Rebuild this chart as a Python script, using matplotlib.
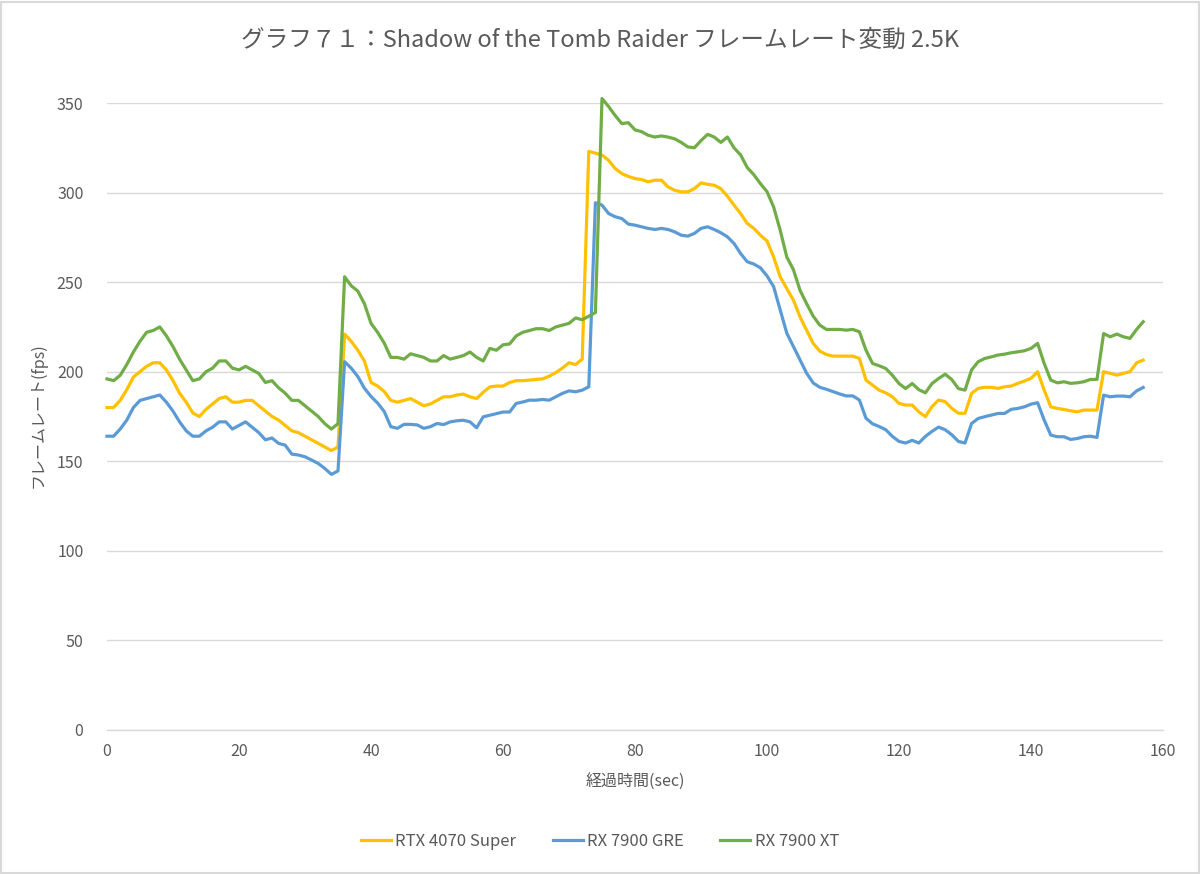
import matplotlib
matplotlib.use("Agg")
import matplotlib.pyplot as plt
from matplotlib.patches import Rectangle

plt.rcParams['font.family'] = ['Noto Sans CJK JP', 'DejaVu Sans']

title = "グラフ７１：Shadow of the Tomb Raider フレームレート変動 2.5K"
xlabel = "経過時間(sec)"
ylabel = "フレームレート(fps)"
series_names = ["RTX 4070 Super", "RX 7900 GRE", "RX 7900 XT"]
colors = ["#FFC000", "#5B9BD5", "#70AD47"]

seconds = list(range(158))

rtx4070s = [
    180, 180, 184, 190, 197, 200, 203, 205, 205, 201, 195, 188, 183, 177, 175, 179, 182, 185, 186, 183,
    183, 184, 184, 181, 178, 175, 173, 170, 167, 166, 164, 162, 160, 158, 156, 158, 221, 217, 212, 206,
    194, 192, 189, 184, 183, 184, 185, 183, 181, 182, 184, 186, 186, 187, 187.5, 186, 185, 188.5, 191.5, 192,
    192, 194, 195, 195, 195.3, 195.7, 196, 197.5, 199.5, 202, 205, 204, 207, 323, 322, 320.9, 318, 313.4, 310.6, 309,
    307.8, 307.3, 306, 306.9, 306.9, 303.2, 301.3, 300.4, 300.4, 302.2, 305.4, 304.6, 304.1, 302.2, 298, 293, 288.3, 282.8, 280, 276.2,
    273, 264.1, 253, 246.4, 240, 230.6, 223.2, 215.8, 211.5, 209.6, 208.7, 208.7, 208.7, 208.7, 207.4, 195.3, 192.5, 189.7, 188.2, 186,
    182.3, 181.4, 181.4, 177.6, 174.9, 180.5, 184.2, 183.3, 179.5, 176.8, 176.8, 187.9, 190.7, 191.3, 191.3, 190.7, 191.6, 192, 193.5, 194.8,
    196.3, 200, 189.7, 180.4, 179.5, 178.9, 178.2, 177.6, 178.6, 178.6, 178.6, 200, 199.1, 198.1, 199.1, 200, 205, 206.5,
]

rx7900gre = [
    164, 164, 168, 173, 180, 184, 185, 186, 187, 183, 178, 172, 167, 164, 164, 167, 169, 172, 172, 168,
    170, 172, 169, 166, 162, 163, 160, 159, 154, 153.5, 152.5, 150.7, 148.8, 146, 142.7, 144.6, 205.6, 202, 197.3, 190.8,
    186.2, 182.5, 177.8, 169.3, 168.4, 170.6, 170.6, 170.3, 168.4, 169.3, 171.1, 170.5, 172, 172.6, 172.9, 172, 168.7, 174.8, 175.7, 176.6,
    177.5, 177.5, 182.3, 183.1, 184.1, 184.1, 184.5, 184.1, 186, 187.9, 189.3, 188.8, 189.7, 191.6, 294.3, 293, 288.3, 286.5, 285.5, 282.4,
    281.8, 280.9, 280, 279.4, 280, 279.4, 278.1, 276.2, 275.7, 277.2, 280, 280.9, 279.4, 277.6, 275.3, 271.6, 266, 261.4, 260.1, 258,
    253.5, 247.5, 234.5, 221.5, 214.1, 206.7, 199.2, 193.7, 191.3, 190.2, 188.9, 187.6, 186.5, 186.5, 184.2, 174, 170.9, 169.4, 167.6, 163.9,
    161.1, 160.2, 161.7, 160.2, 163.9, 166.7, 169.1, 167.6, 164.8, 161.1, 160.2, 171.1, 173.9, 174.9, 175.8, 176.7, 176.7, 179, 179.5, 180.4,
    181.9, 182.7, 173, 164.6, 163.7, 163.7, 162.2, 162.7, 163.7, 164, 163.3, 186.9, 186, 186.4, 186.4, 186, 189.3, 191.2,
]

rx7900xt = [
    196, 195, 198, 204, 211, 217, 222, 223, 225, 220, 214, 207, 201, 195, 196, 200, 202, 206, 206, 202,
    201, 203, 201, 199, 194, 195, 191, 188, 184, 184, 181, 178, 175, 171, 168, 171, 253, 248, 245, 238,
    227, 222, 216, 208, 208, 207, 210, 209, 208, 206, 206, 209, 207, 208, 209, 211, 208, 206, 213, 212,
    215, 215.5, 220, 222, 223, 224, 224, 223, 225, 226, 227, 230, 229, 231, 233, 352.5, 348, 343, 338.5, 339,
    335, 334, 332, 331, 331.6, 331, 330, 328, 325.5, 325, 329, 332.5, 331, 328, 331, 325, 321, 314, 310, 305,
    300.5, 292, 279, 264, 257, 245.5, 238, 231, 226, 223.6, 223.6, 223.6, 223.2, 223.6, 222.3, 212, 204.6, 203.3, 201.8, 198,
    193.4, 190.6, 193.4, 190, 188.2, 193.4, 196.2, 198.6, 195.6, 190.6, 189.7, 201, 205.6, 207.4, 208.3, 209.3, 209.8, 210.6, 211.1, 211.7,
    213, 215.8, 204.6, 195.3, 193.8, 194.4, 193.5, 193.8, 194.4, 195.7, 195.7, 221.3, 219.5, 221, 219.5, 218.6, 223.6, 227.9,
]

fig = plt.figure(figsize=(12, 8.74), dpi=100)
fig.patch.set_facecolor("white")
fig.add_artist(Rectangle((0.001, 0.001), 0.998, 0.997, transform=fig.transFigure,
                         fill=False, edgecolor="#d9d9d9", linewidth=1.5))

ax = fig.add_axes([107 / 1200, 1 - 730 / 874, (1163 - 107) / 1200, (730 - 103) / 874])

for name, vals, c in zip(series_names, [rtx4070s, rx7900gre, rx7900xt], colors):
    ax.plot(seconds, vals, color=c, linewidth=2.3, label=name, solid_joinstyle="round",
            clip_on=False)

ax.set_xlim(0, 160)
ax.set_ylim(0, 350)
ax.set_xticks(range(0, 161, 20))
ax.set_yticks(range(0, 351, 50))
ax.grid(axis="y", color="#d9d9d9", linewidth=1.0)
ax.set_axisbelow(True)
for s in ["top", "right", "left"]:
    ax.spines[s].set_visible(False)
ax.spines["bottom"].set_color("#d9d9d9")
ax.spines["bottom"].set_linewidth(1.0)
ax.tick_params(axis="both", length=0, labelsize=11.5, labelcolor="#595959")
ax.tick_params(axis="y", pad=17)
ax.tick_params(axis="x", pad=9)

ax.set_xlabel(xlabel, fontsize=11.5, color="#595959", labelpad=10)
fig.text(38 / 1200, 1 - 415 / 874, ylabel, rotation=90, fontsize=11.5, color="#595959",
         ha="center", va="center")

fig.text(0.5, 1 - 40 / 874, title, fontsize=17, color="#595959", ha="center", va="center")

fig.legend(loc="center", bbox_to_anchor=(0.5, 1 - 841 / 874), ncol=3, frameon=False,
           fontsize=12, labelcolor="#595959", handlelength=1.8, columnspacing=2.2,
           handletextpad=0.25)

fig.savefig("out.png", dpi=100, facecolor="white")
